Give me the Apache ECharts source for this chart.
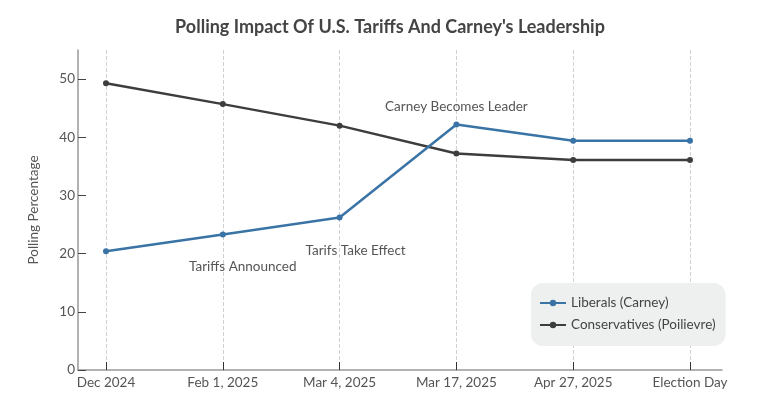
<!DOCTYPE html>
<html>
<head>
<meta charset="utf-8">
<script src="https://cdn.jsdelivr.net/npm/echarts@6/dist/echarts.min.js"></script>
<style>
  html, body { margin: 0; padding: 0; background: #fff; }
  #chart { width: 780px; height: 407px; }
</style>
</head>
<body>
<div id="chart"></div>
<script>
// data
var categories = ['Dec 2024', 'Feb 1, 2025', 'Mar 4, 2025', 'Mar 17, 2025', 'Apr 27, 2025', 'Election Day'];
var liberals = [20.4, 23.3, 26.2, 42.2, 39.4, 39.4];
var conservatives = [49.3, 45.7, 42.0, 37.2, 36.1, 36.1];
var yTicks = [0, 10, 20, 30, 40, 50];
var notes = [
    { text: 'Tariffs Announced', at: 'Feb 1, 2025', y: 17.7, dx: 20 },
    { text: 'Tarifs Take Effect', at: 'Mar 4, 2025', y: 20.6, dx: 16 },
    { text: 'Carney Becomes Leader', at: 'Mar 17, 2025', y: 45.3, dx: 0 }
];

var font = 'Lato';
var chart = echarts.init(document.getElementById('chart'));

var option = {
    backgroundColor: '#fff',
    textStyle: { fontFamily: font },
    title: {
        text: "Polling Impact Of U.S. Tariffs And Carney's Leadership",
        left: 'center',
        top: 13,
        textStyle: { fontFamily: font, fontSize: 18, fontWeight: 'bold', color: '#444' }
    },
    legend: {
        orient: 'vertical',
        left: 531,
        top: 283,
        padding: [13, 10, 14, 8],
        itemGap: 8,
        itemWidth: 26,
        itemHeight: 8,
        backgroundColor: '#eef0ef',
        borderRadius: 12,
        textStyle: { fontFamily: font, fontSize: 13.5, color: '#444' },
        data: ['Liberals (Carney)', 'Conservatives (Poilievre)']
    },
    grid: [
        { left: 106, right: 90, top: 50, bottom: 37 },
        { left: 78, right: 58, top: 50, bottom: 37 }
    ],
    xAxis: [{
        type: 'category',
        gridIndex: 0,
        boundaryGap: false,
        data: categories,
        axisLine: { show: false },
        axisTick: { show: true, inside: true, length: 8, lineStyle: { color: '#333' } },
        axisLabel: { fontSize: 13.5, color: '#555', margin: 6 },
        splitLine: { show: true, lineStyle: { color: '#d0d0d0', type: 'dashed' } }
    }, {
        type: 'value',
        gridIndex: 1,
        min: 0,
        max: 1,
        axisLine: { show: true, onZero: false, lineStyle: { color: '#999', width: 1.5 } },
        axisTick: { show: false },
        axisLabel: { show: false },
        splitLine: { show: false }
    }],
    yAxis: [{
        type: 'value',
        gridIndex: 0,
        min: 0,
        max: 55,
        show: false,
        splitLine: { show: false }
    }, {
        type: 'value',
        gridIndex: 1,
        min: 0,
        max: 55,
        name: 'Polling Percentage',
        nameLocation: 'middle',
        nameGap: 37,
        nameTextStyle: { fontFamily: font, fontSize: 13.5, color: '#555' },
        axisLine: { show: true, lineStyle: { color: '#999', width: 1.5 } },
        axisTick: { show: true, inside: true, length: 8, customValues: yTicks, lineStyle: { color: '#444' } },
        axisLabel: { fontSize: 13.5, color: '#555', margin: 3, customValues: yTicks },
        splitLine: { show: false }
    }],
    series: [{
        name: 'Liberals (Carney)',
        type: 'line',
        xAxisIndex: 0,
        yAxisIndex: 0,
        data: liberals,
        color: '#3a74a6',
        lineStyle: { width: 2.5 },
        symbol: 'circle',
        symbolSize: 6,
        z: 3,
        markPoint: {
            symbol: 'circle',
            symbolSize: 0,
            label: { show: true, position: 'inside', fontSize: 13.5, color: '#555', formatter: '{b}' },
            data: notes.map(function (n) {
                return { name: n.text, coord: [n.at, n.y], label: { offset: [n.dx, 0] } };
            })
        }
    }, {
        name: 'Conservatives (Poilievre)',
        type: 'line',
        xAxisIndex: 0,
        yAxisIndex: 0,
        data: conservatives,
        color: '#3d3d3d',
        lineStyle: { width: 2.5 },
        symbol: 'circle',
        symbolSize: 6,
        z: 2
    }]
};

chart.setOption(option);
</script>
</body>
</html>
